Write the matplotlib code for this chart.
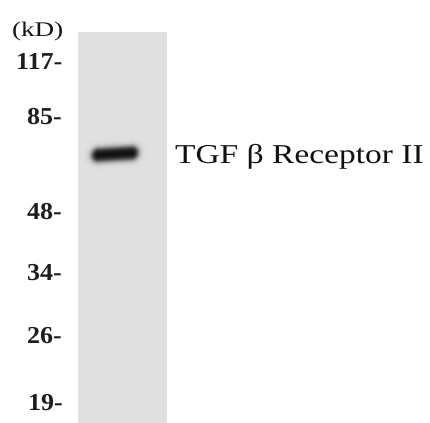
import numpy as np
import matplotlib
matplotlib.use("Agg")
import matplotlib.pyplot as plt
from matplotlib.patheffects import AbstractPathEffect
from matplotlib.transforms import Affine2D

# Data
marker_labels = ["117-", "85-", "48-", "34-", "26-", "19-"]
marker_kd = [117, 85, 48, 34, 26, 19]
marker_pos = [69, 124, 219, 280, 343, 410]   # baseline pixel positions of ladder marks
marker_left = [16, 27, 27, 27, 27, 28]
band_label = "TGF β Receptor II"
band_pos = 154          # vertical position of the detected band
band_intensity = 0.97   # relative darkness of the band


class HStretch(AbstractPathEffect):
    """Stretch text horizontally about its anchor (the source image is stretched)."""
    def __init__(self, sx):
        super().__init__()
        self.sx = sx

    def draw_path(self, renderer, gc, tpath, affine, rgbFace=None):
        renderer.draw_path(gc, tpath, Affine2D().scale(self.sx, 1.0) + affine, rgbFace)


W, H = 430, 423
fig = plt.figure(figsize=(W / 100, H / 100), dpi=100)
ax = fig.add_axes([0, 0, 1, 1])
ax.set_xlim(0, W)
ax.set_ylim(H, 0)
ax.axis("off")

# Lane image with band
lane_x0, lane_x1, lane_y0, lane_y1 = 78, 167, 32, H
nx, ny = lane_x1 - lane_x0, lane_y1 - lane_y0
xx, yy = np.meshgrid(np.arange(nx) + lane_x0 + 0.5, np.arange(ny) + lane_y0 + 0.5)
bg = 0.878
cx, half_w, half_h = 115, 23, 6.5
tilt = -0.06
yc = band_pos + tilt * (xx - cx)
dx = np.clip(np.abs(xx - cx) - (half_w - half_h), 0, None)
d = np.sqrt(dx ** 2 + (yy - yc) ** 2)
blob = 1.0 / (1.0 + np.exp((d - half_h) / 1.7))
img = bg - (bg - 0.02) * band_intensity * blob
ax.imshow(img, cmap="gray", vmin=0, vmax=1, extent=(lane_x0, lane_x1, lane_y1, lane_y0),
          interpolation="bilinear", aspect="auto", zorder=1)

serif = ["Liberation Serif", "DejaVu Serif"]
ax.text(12, 36, "(kD)", ha="left", va="baseline", fontsize=15, family=serif,
        color="#151515", path_effects=[HStretch(1.3)])
for lab, x, y in zip(marker_labels, marker_left, marker_pos):
    ax.text(x, y, lab, ha="left", va="baseline", fontsize=17.5, family=serif,
            fontweight="bold", color="#1e1e1e", path_effects=[HStretch(1.07)])

ax.text(175, 163, band_label, ha="left", va="baseline", fontsize=19.6, family=serif,
        color="#111111", path_effects=[HStretch(1.23)])

fig.savefig("out.png", dpi=100)
